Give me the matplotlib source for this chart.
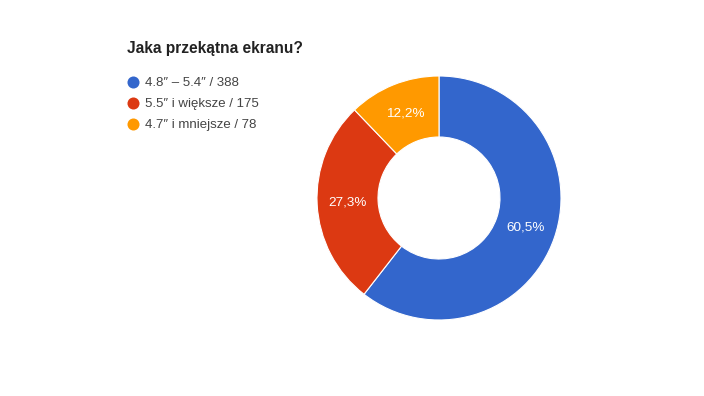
import matplotlib.pyplot as plt

plt.rcParams['font.family'] = ['Liberation Sans', 'DejaVu Sans']

title = "Jaka przekątna ekranu?"
labels = ["4.8″ – 5.4″", "5.5″ i większe", "4.7″ i mniejsze"]
counts = [388, 175, 78]
colors = ["#3366cc", "#dc3912", "#ff9900"]

fig = plt.figure(figsize=(7.04, 3.96), dpi=100)

# donut
ax = fig.add_axes([317 / 704, 1 - 320 / 396, 244 / 704, 244 / 396])
wedges, texts, autotexts = ax.pie(
    counts, colors=colors, startangle=90, counterclock=False, radius=1,
    wedgeprops=dict(width=0.5, edgecolor="white", linewidth=0.8),
    autopct=lambda p: f"{p:.1f}%".replace(".", ","), pctdistance=0.75,
    textprops=dict(color="white", fontsize=9.7))
ax.set_xlim(-1, 1)
ax.set_ylim(-1, 1)
ax.set_aspect("equal")
ax.axis("off")

# title + legend in pixel coords
lax = fig.add_axes([0, 0, 1, 1])
lax.set_xlim(0, 704)
lax.set_ylim(396, 0)
lax.axis("off")
lax.text(127, 48, title, fontsize=11.2, fontweight="bold", color="#222222", va="center")
for i, (lab, n, c) in enumerate(zip(labels, counts, colors)):
    y = 82 + i * 21
    lax.scatter([133], [y], s=75, color=c, zorder=3, linewidths=0)
    lax.text(145, y + 1, f"{lab} / {n}", fontsize=9.5, color="#444444", va="center")

fig.savefig("out.png", dpi=100)
